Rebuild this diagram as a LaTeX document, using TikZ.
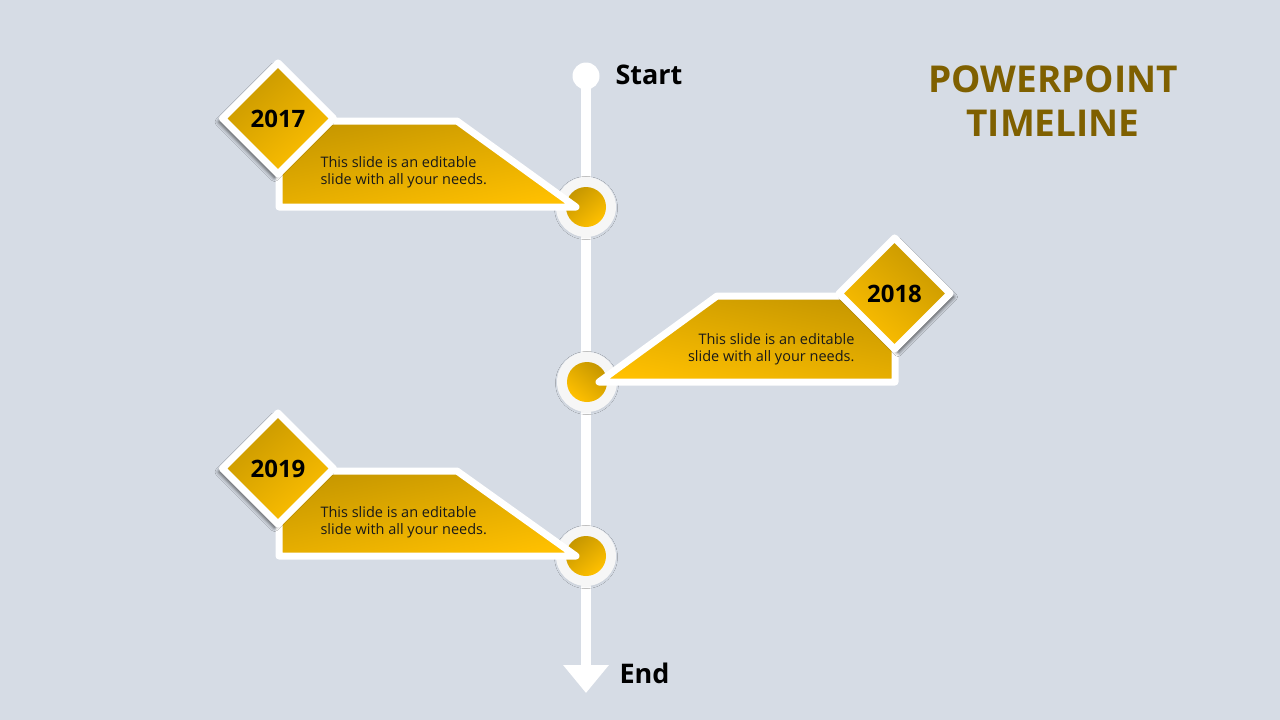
\documentclass[tikz,border=0pt]{standalone}
\usepackage{fontspec}
\setmainfont{Open Sans}
\usetikzlibrary{shadows.blur,arrows.meta,shapes.geometric}
\definecolor{bg}{HTML}{D6DCE5}
\definecolor{golddark}{HTML}{C69700}
\definecolor{goldlight}{HTML}{FFC000}
\definecolor{titlec}{HTML}{7F6000}
\definecolor{ringc}{HTML}{F6F6F6}
\tikzset{
  goldfill/.style={top color=golddark,bottom color=goldlight,shading angle=40},
  goldfillR/.style={top color=golddark,bottom color=goldlight,shading angle=-40},
  boxst/.style={draw=white,line width=7pt,line join=round,top color=golddark,bottom color=goldlight,shading angle=12},
  boxstR/.style={draw=white,line width=7pt,line join=round,top color=golddark,bottom color=goldlight,shading angle=-12},
  yeardia/.style={diamond,aspect=1,inner sep=0pt,minimum width=114pt,minimum height=114pt,
    draw=white,line width=7pt,line join=round,font=\bfseries\fontsize{24}{28}\selectfont},
  ring/.style={circle,fill=ringc,minimum size=60pt,inner sep=0pt,
    blur shadow={shadow xshift=0pt,shadow yshift=-1pt,shadow blur radius=1.5pt,shadow opacity=6}},
  dot/.style={circle,minimum size=40pt,inner sep=0pt},
  bodytxt/.style={text=black!90,font=\fontsize{14.5}{17}\selectfont},
  endlbl/.style={font=\bfseries\fontsize{27}{30}\selectfont,anchor=west},
  shL/.style={blur shadow={shadow xshift=-3.5pt,shadow yshift=-3.5pt,shadow blur radius=4pt,shadow opacity=70}},
  shR/.style={blur shadow={shadow xshift=3.5pt,shadow yshift=-3.5pt,shadow blur radius=4pt,shadow opacity=70}},
}
\begin{document}
\begin{tikzpicture}[x=1pt,y=-1pt]
\fill[bg] (0,0) rectangle (1280,720);
\useasboundingbox (0,0) rectangle (1280,720);
% title
\node[text=titlec,font=\bfseries\fontsize{37}{44}\selectfont,align=center] (title) at (1053,101) {POWERPOINT\\TIMELINE};
% axis
\node[circle,fill=white,minimum size=27pt,inner sep=0pt] (start) at (586,76) {};
\coordinate (endp) at (586,693);
\draw[white,line width=10pt,-{Triangle[width=44pt,length=28pt]}] (start.center) -- (endp);
\node[endlbl] (startlbl) at (612,75) {Start};
\node[endlbl] (endlbl) at (616,673) {End};
% circles
\node[ring] (r1) at (586,207) {};
\node[dot,goldfill] (c1) at (r1) {};
\node[ring] (r2) at (587,382) {};
\node[dot,goldfillR] (c2) at (r2) {};
\node[ring] (r3) at (586,556) {};
\node[dot,goldfill] (c3) at (r3) {};
% box 2017
\draw[boxst] (279,121) -- (457,121) -- (576,207) -- (279,207) -- cycle;
\node[yeardia,goldfill,shL] (d1) at (278,118.5) {2017};
\node[bodytxt,anchor=west,align=left] (t1) at (317,172) {This slide is an editable\\slide with all your needs.};
% box 2018
\draw[boxstR] (895,296) -- (717,296) -- (599,382) -- (895,382) -- cycle;
\node[yeardia,goldfillR,shR] (d2) at (894.5,293.5) {2018};
\node[bodytxt,anchor=east,align=right] (t2) at (858,349) {This slide is an editable\\slide with all your needs.};
% box 2019
\draw[boxst] (279,471) -- (457,471) -- (576,556) -- (279,556) -- cycle;
\node[yeardia,goldfill,shL] (d3) at (278,468.5) {2019};
\node[bodytxt,anchor=west,align=left] (t3) at (317,522) {This slide is an editable\\slide with all your needs.};
\end{tikzpicture}
\end{document}
